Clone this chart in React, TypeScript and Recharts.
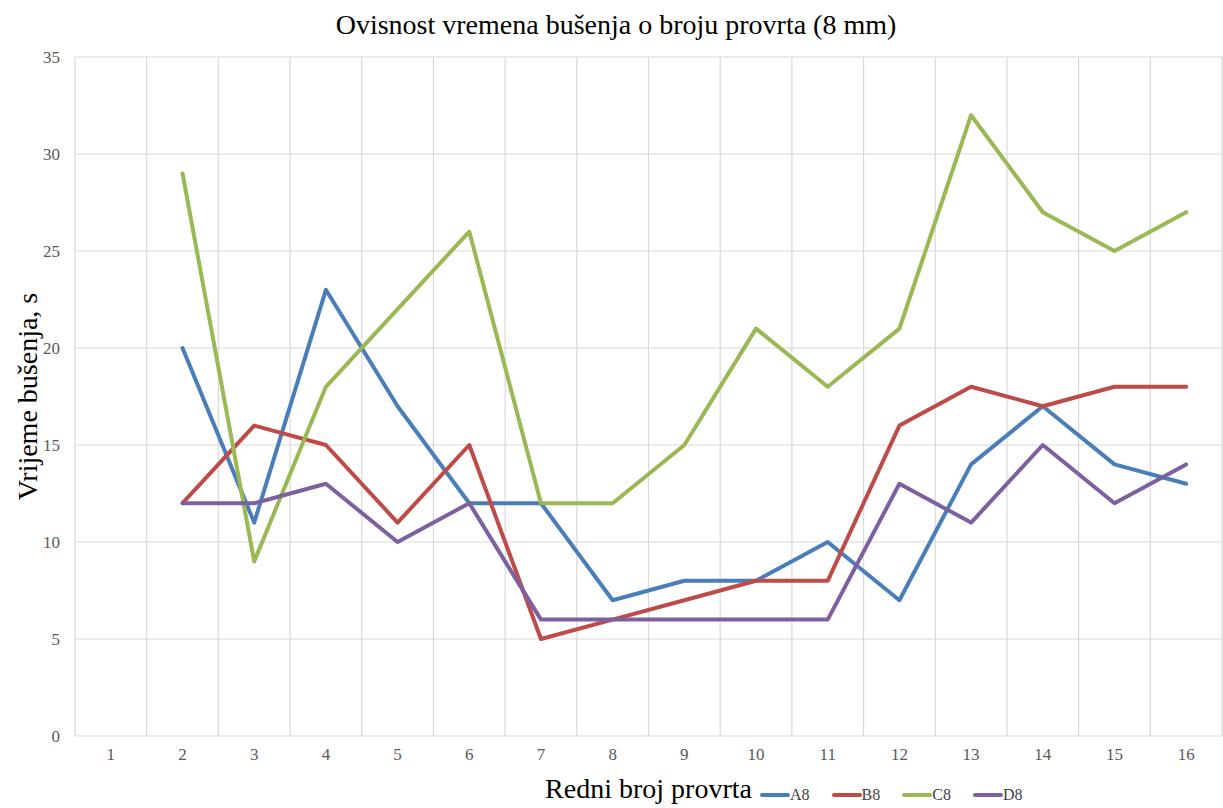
import { LineChart, Line, XAxis, YAxis, CartesianGrid, Legend } from "recharts";

const holes = [1, 2, 3, 4, 5, 6, 7, 8, 9, 10, 11, 12, 13, 14, 15, 16];
const a8 = [null, 20, 11, 23, 17, 12, 12, 7, 8, 8, 10, 7, 14, 17, 14, 13];
const b8 = [null, 12, 16, 15, 11, 15, 5, 6, 7, 8, 8, 16, 18, 17, 18, 18];
const c8 = [null, 29, 9, 18, 22, 26, 12, 12, 15, 21, 18, 21, 32, 27, 25, 27];
const d8 = [null, 12, 12, 13, 10, 12, 6, 6, 6, 6, 6, 13, 11, 15, 12, 14];
const yTicks = [0, 5, 10, 15, 20, 25, 30, 35];
const gridTicks = [0, ...holes].map((h) => h + 0.5);

const series = [
  { key: "A8", color: "#4a7ebb" },
  { key: "B8", color: "#be4b48" },
  { key: "C8", color: "#98b954" },
  { key: "D8", color: "#7d60a0" },
];

const data = holes.map((h, i) => ({ x: h, A8: a8[i], B8: b8[i], C8: c8[i], D8: d8[i] }));

const FONT = '"Liberation Serif", "Times New Roman", serif';
const tickStyle = { fontSize: 17, fill: "#595959", fontFamily: FONT };

function LegendRow({ payload }: any) {
  return (
    <div style={{ display: "flex", alignItems: "center", fontFamily: FONT, fontSize: 16, color: "#404040" }}>
      {(payload || []).map((p: any) => (
        <span key={p.value} style={{ display: "flex", alignItems: "center", marginRight: 22 }}>
          <span style={{ display: "inline-block", width: 30, height: 4, borderRadius: 2, background: p.color }} />
          <span>{p.value}</span>
        </span>
      ))}
    </div>
  );
}

export default function App() {
  return (
    <div style={{ position: "absolute", left: 0, top: 0, width: 1223, height: 808, background: "#fff", fontFamily: FONT }}>
      <div style={{ position: "absolute", top: 8, left: 0, width: 1232, textAlign: "center", fontSize: 28, lineHeight: "34px", color: "#000" }}>
        Ovisnost vremena bušenja o broju provrta (8 mm)
      </div>
      <LineChart width={1223} height={808} data={data} margin={{ top: 57, right: 1, bottom: 0, left: 0 }}>
        <CartesianGrid xAxisId="grid" stroke="#d9d9d9" strokeWidth={1.2} />
        <XAxis xAxisId="grid" dataKey="x" type="number" domain={[0.5, 16.5]} ticks={gridTicks} hide />
        <XAxis
          dataKey="x"
          type="number"
          domain={[0.5, 16.5]}
          ticks={holes}
          interval={0}
          height={72}
          axisLine={false}
          tickLine={false}
          tickMargin={6}
          tick={tickStyle}
          label={{ value: "Redni broj provrta", position: "insideBottom", offset: 10, style: { fontSize: 28, fill: "#000", fontFamily: FONT } }}
        />
        <YAxis
          domain={[0, 35]}
          ticks={yTicks}
          width={75}
          axisLine={false}
          tickLine={false}
          tickMargin={9}
          tick={tickStyle}
          label={{ value: "Vrijeme bušenja, s", angle: -90, position: "insideLeft", offset: 27, style: { textAnchor: "middle", fontSize: 28, fill: "#000", fontFamily: FONT } }}
        />
        <Legend
          layout="horizontal"
          verticalAlign="middle"
          align="center"
          content={<LegendRow />}
          wrapperStyle={{ position: "absolute", left: 760, top: 786, width: 460, height: 20 }}
        />
        {series.map((s) => (
          <Line
            key={s.key}
            xAxisId={0}
            dataKey={s.key}
            name={s.key}
            type="linear"
            stroke={s.color}
            strokeWidth={4}
            strokeLinejoin="round"
            strokeLinecap="round"
            dot={false}
            activeDot={false}
            isAnimationActive={false}
          />
        ))}
      </LineChart>
    </div>
  );
}
